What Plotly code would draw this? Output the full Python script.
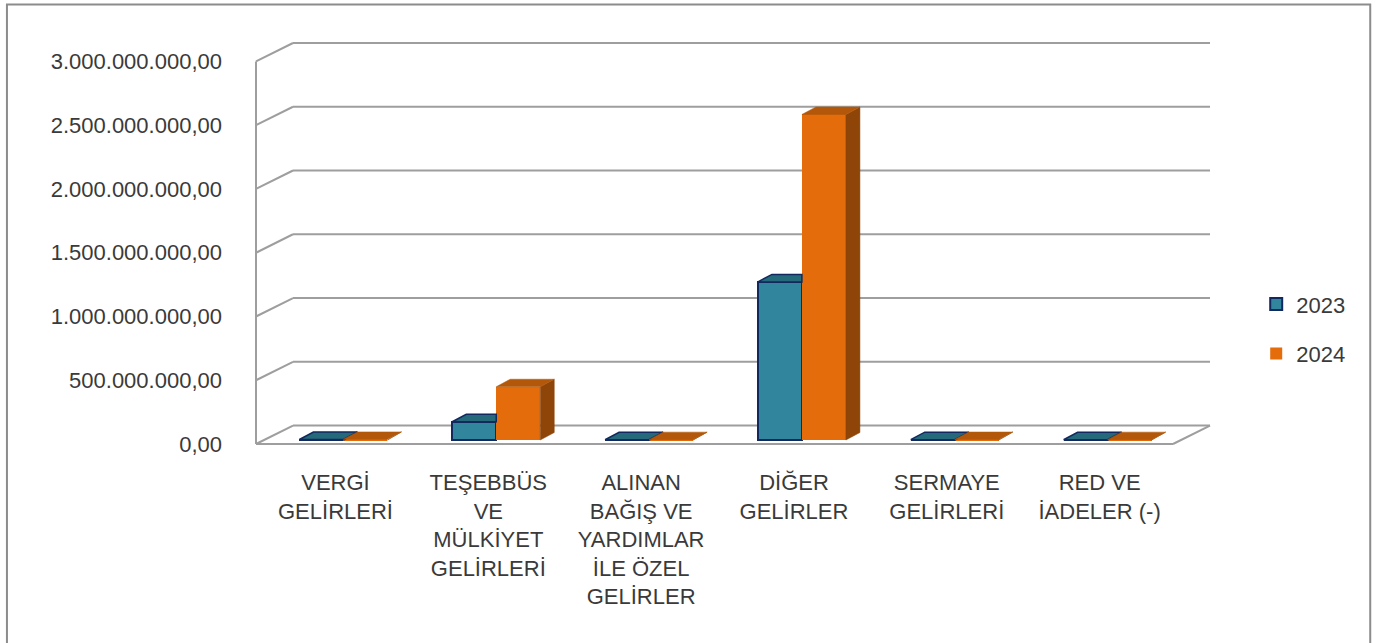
import plotly.graph_objects as go

# ---------------- data ----------------
categories = ["VERGİ GELİRLERİ", "TEŞEBBÜS VE MÜLKİYET GELİRLERİ",
              "ALINAN BAĞIŞ VE YARDIMLAR İLE ÖZEL GELİRLER", "DİĞER GELİRLER",
              "SERMAYE GELİRLERİ", "RED VE İADELER (-)"]
category_labels = ["VERGİ<br>GELİRLERİ", "TEŞEBBÜS<br>VE<br>MÜLKİYET<br>GELİRLERİ",
                   "ALINAN<br>BAĞIŞ VE<br>YARDIMLAR<br>İLE ÖZEL<br>GELİRLER",
                   "DİĞER<br>GELİRLER", "SERMAYE<br>GELİRLERİ", "RED VE<br>İADELER (-)"]
series_names = ["2023", "2024"]
values_2023 = [4e6, 143e6, 2e6, 1240e6, 3e6, 2e6]
values_2024 = [5e6, 418e6, 3e6, 2553e6, 4e6, 3e6]
y_tick_values = [0, 5e8, 1e9, 1.5e9, 2e9, 2.5e9, 3e9]


def tr_fmt(v):
    s = f"{v:,.2f}"
    return s.replace(",", "X").replace(".", ",").replace("X", ".")


y_tick_labels = [tr_fmt(v) for v in y_tick_values]

# ---------------- styling / geometry ----------------
W, H = 1378, 643
YMAX = max(y_tick_values)
PX_X = 152.8                 # px per category unit
PX_Y = 383 / YMAX            # px per value unit
X0_PX = 256                  # pixel of x = -0.5 (front-left edge)
Y0_PX = 444                  # pixel of y = 0 (front floor edge)
PAD = 3
n = len(categories)
WALL_DX = 37 / PX_X
WALL_DY = 18.5 / PX_Y
BAR_W = 44 / PX_X
BAR_SHIFT = 11 / PX_X
BAR_BASE = 4 / PX_Y
BAR_DDX = 14 / PX_X
BAR_DDY = 7.5 / PX_Y
LABEL_SHIFT = 0.02

GRID = "#9E9E9E"
TEAL = "#31859C"
TEAL_TOP = "#246A7A"
TEAL_SIDE = "#1E5766"
NAVY = "#11295E"
ORANGE = "#E46C0A"
ORANGE_TOP = "#B3580A"
ORANGE_SIDE = "#8F4507"
TEXT = "#3A3A3A"
FONT = "Liberation Sans"

x_range = [-0.5 - PAD / PX_X, n - 0.5 + WALL_DX + PAD / PX_X]
y_range = [-PAD / PX_Y, YMAX + WALL_DY + PAD / PX_Y]
m_l = X0_PX - PAD
plot_w = (x_range[1] - x_range[0]) * PX_X
m_r = W - m_l - plot_w
plot_h = (y_range[1] - y_range[0]) * PX_Y
bottom_px = Y0_PX + PAD
m_b = H - bottom_px
m_t = bottom_px - plot_h

fig = go.Figure()

# front faces as real bars
xs = list(range(n))
fig.add_trace(go.Bar(
    x=xs, y=values_2023, base=[BAR_BASE] * n, width=BAR_W, offset=BAR_SHIFT - BAR_W,
    name=series_names[0], legendgroup="a",
    marker=dict(color=TEAL, line=dict(color=NAVY, width=2)), hoverinfo="skip"))
fig.add_trace(go.Bar(
    x=xs, y=values_2024, base=[BAR_BASE] * n, width=BAR_W, offset=BAR_SHIFT,
    name=series_names[1], legendgroup="b",
    marker=dict(color=ORANGE, line=dict(color=ORANGE, width=0)), hoverinfo="skip"))


def poly(pts, fill, line_color, lw):
    px = [p[0] for p in pts] + [pts[0][0]]
    py = [p[1] for p in pts] + [pts[0][1]]
    fig.add_trace(go.Scatter(x=px, y=py, mode="lines", fill="toself", fillcolor=fill,
                             line=dict(color=line_color, width=lw), showlegend=False,
                             hoverinfo="skip"))


for i in range(n):
    v1, v2 = values_2023[i], values_2024[i]
    t1, t2 = BAR_BASE + v1, BAR_BASE + v2
    xl1 = i + BAR_SHIFT - BAR_W
    xr1 = i + BAR_SHIFT
    xl2, xr2 = xr1, xr1 + BAR_W
    hidden = t2 >= t1 + BAR_DDY
    if hidden:
        poly([(xl1, t1), (xr1, t1), (xr1, t1 + BAR_DDY), (xl1 + BAR_DDX, t1 + BAR_DDY)],
             TEAL_TOP, NAVY, 1.5)
    else:
        poly([(xr1, BAR_BASE), (xr1 + BAR_DDX, BAR_BASE + BAR_DDY),
              (xr1 + BAR_DDX, t1 + BAR_DDY), (xr1, t1)], TEAL_SIDE, NAVY, 1.5)
        poly([(xl1, t1), (xr1, t1), (xr1 + BAR_DDX, t1 + BAR_DDY),
              (xl1 + BAR_DDX, t1 + BAR_DDY)], TEAL_TOP, NAVY, 1.5)
    poly([(xr2, BAR_BASE), (xr2 + BAR_DDX, BAR_BASE + BAR_DDY),
          (xr2 + BAR_DDX, t2 + BAR_DDY), (xr2, t2)], ORANGE_SIDE, ORANGE_SIDE, 0.5)
    poly([(xl2, t2), (xr2, t2), (xr2 + BAR_DDX, t2 + BAR_DDY),
          (xl2 + BAR_DDX, t2 + BAR_DDY)], ORANGE_TOP, ORANGE_TOP, 0.5)

# walls & floor (below the marks)
shapes = []
line = dict(color=GRID, width=2)
xb0, xb1 = -0.5 + WALL_DX, n - 0.5 + WALL_DX
for v in y_tick_values:
    shapes.append(dict(type="line", xref="x", yref="y", x0=xb0, x1=xb1,
                       y0=v + WALL_DY, y1=v + WALL_DY, line=line, layer="below"))
    shapes.append(dict(type="line", xref="x", yref="y", x0=-0.5, x1=xb0,
                       y0=v, y1=v + WALL_DY, line=line, layer="below"))
shapes.append(dict(type="line", xref="x", yref="y", x0=-0.5, x1=-0.5, y0=0, y1=YMAX,
                   line=line, layer="below"))
shapes.append(dict(type="line", xref="x", yref="y", x0=-0.5, x1=n - 0.5, y0=0, y1=0,
                   line=line, layer="below"))
shapes.append(dict(type="line", xref="x", yref="y", x0=n - 0.5, x1=xb1, y0=0, y1=WALL_DY,
                   line=line, layer="below"))


# chart border (figure pixels -> paper)
def pxx(p):
    return (p - m_l) / plot_w


def pxy(p):
    return (bottom_px - p) / plot_h


shapes.append(dict(type="rect", xref="paper", yref="paper", x0=pxx(7), x1=pxx(1370),
                   y0=pxy(660), y1=pxy(4), line=dict(color="#8C8C8C", width=2), layer="below"))

fig.update_layout(
    width=W, height=H,
    margin=dict(l=m_l, r=m_r, t=m_t, b=m_b, pad=0, autoexpand=False),
    paper_bgcolor="white", plot_bgcolor="rgba(0,0,0,0)",
    barmode="overlay", bargap=0,
    shapes=shapes,
    showlegend=True,
    legend=dict(x=pxx(1256), y=pxy(283), xanchor="left", yanchor="top",
                font=dict(family=FONT, size=22, color=TEXT),
                tracegroupgap=18, traceorder="grouped", bgcolor="rgba(0,0,0,0)"),
    xaxis=dict(range=x_range, showgrid=False, zeroline=False, showline=False,
               tickvals=[i + LABEL_SHIFT for i in xs], ticktext=category_labels,
               ticks="", ticklabelstandoff=20, automargin=False, fixedrange=True,
               tickfont=dict(family=FONT, size=22, color=TEXT)),
    yaxis=dict(range=y_range, showgrid=False, zeroline=False, showline=False,
               tickvals=y_tick_values, ticktext=y_tick_labels, ticks="",
               ticklabelstandoff=30, automargin=False, fixedrange=True,
               tickfont=dict(family=FONT, size=22, color=TEXT)),
)

fig.write_html("out.html", config={"displayModeBar": False},
               post_script="document.body.style.margin='0';document.body.style.overflow='hidden';")
